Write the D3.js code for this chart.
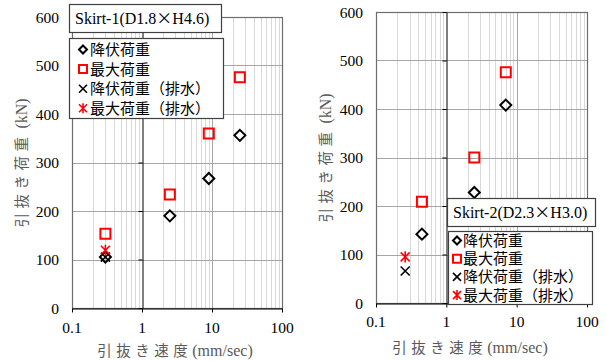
<!DOCTYPE html>
<html>
<head>
<meta charset="utf-8">
<script src="https://cdn.jsdelivr.net/npm/d3@7"></script>
<style>
  html, body { margin: 0; padding: 0; background: #fff; }
  svg { display: block; }
</style>
</head>
<body>
<svg id="chart" width="607" height="361"></svg>
<script>
// Axis ticks shared by both panels
const speedTicks = [0.1, 1, 10, 100];
const loadTicks = [0, 100, 200, 300, 400, 500, 600];
const seriesNames = ["降伏荷重", "最大荷重", "降伏荷重（排水）", "最大荷重（排水）"];

// Skirt-1 (D1.8 x H4.6)
const s1YieldSpeed = [0.3, 2.5, 9, 25];
const s1YieldLoad = [105, 190, 267, 356];
const s1MaxSpeed = [0.3, 2.5, 9, 25];
const s1MaxLoad = [153, 234, 360, 476];
const s1DrainYieldSpeed = [0.3];
const s1DrainYieldLoad = [105];
const s1DrainMaxSpeed = [0.3];
const s1DrainMaxLoad = [119];

// Skirt-2 (D2.3 x H3.0)
const s2YieldSpeed = [0.45, 2.5, 7];
const s2YieldLoad = [142, 228, 408];
const s2MaxSpeed = [0.45, 2.5, 7];
const s2MaxLoad = [209, 300, 476];
const s2DrainYieldSpeed = [0.26];
const s2DrainYieldLoad = [66];
const s2DrainMaxSpeed = [0.26];
const s2DrainMaxLoad = [95];

const SERIF = '"Liberation Serif", "Times New Roman", "DejaVu Serif", serif';
const CJK = '"Noto Sans CJK JP", "Noto Sans", sans-serif';

const svg = d3.select("#chart");

// marker path generators, centred on 0,0 with half-size r
const markers = {
  diamond: r => `M0,${-r}L${r},0L0,${r}L${-r},0Z`,
  square: r => `M${-r},${-r}H${r}V${r}H${-r}Z`,
  cross: r => `M${-r},${-r}L${r},${r}M${r},${-r}L${-r},${r}`,
  star: r => `M${-r},${-r}L${r},${r}M${r},${-r}L${-r},${r}M0,${-r * 1.25}V${r * 1.25}`
};
const styles = [
  { shape: "diamond", color: "#000", width: 2, r: 5.5, lr: 4 },
  { shape: "square", color: "#ff0000", width: 2, r: 5, lr: 4 },
  { shape: "cross", color: "#000", width: 1.6, r: 4.5, lr: 4 },
  { shape: "star", color: "#ff0000", width: 1.6, r: 4.5, lr: 4 }
];

function drawPanel(cfg) {
  const g = svg.append("g");
  const x = d3.scaleLog().domain([0.1, 100]).range([cfg.left, cfg.right]);
  const y = d3.scaleLinear().domain([0, 600]).range([cfg.bottom, cfg.top]);

  // minor vertical gridlines (2..9 in each decade)
  const minor = [];
  [0.1, 1, 10].forEach(d => { for (let k = 2; k <= 9; k++) minor.push(d * k); });
  g.append("g").selectAll("line").data(minor).join("line")
    .attr("x1", d => Math.round(x(d)) + 0.5).attr("x2", d => Math.round(x(d)) + 0.5)
    .attr("y1", cfg.top).attr("y2", cfg.bottom)
    .attr("stroke", "#d9d9d9").attr("stroke-width", 1);

  // major gridlines
  g.append("g").selectAll("line").data([10]).join("line")
    .attr("x1", d => Math.round(x(d)) + 0.5).attr("x2", d => Math.round(x(d)) + 0.5)
    .attr("y1", cfg.top).attr("y2", cfg.bottom)
    .attr("stroke", "#a6a6a6");
  g.append("g").selectAll("line").data(loadTicks.slice(1)).join("line")
    .attr("x1", cfg.left).attr("x2", cfg.right)
    .attr("y1", d => Math.round(y(d)) + 0.5).attr("y2", d => Math.round(y(d)) + 0.5)
    .attr("stroke", "#a6a6a6");

  // plot frame
  g.append("rect")
    .attr("x", cfg.left + 0.5).attr("y", Math.round(cfg.top) + 0.5)
    .attr("width", cfg.right - cfg.left).attr("height", cfg.bottom - Math.round(cfg.top))
    .attr("fill", "none").attr("stroke", "#6e6e6e").attr("stroke-width", 1.2);

  // value axis crossing at speed = 1
  const yAxis = g.append("g")
    .attr("transform", `translate(${Math.round(x(1)) + 0.5},0)`)
    .call(d3.axisLeft(y).tickValues(loadTicks).tickSize(4).tickSizeOuter(0).tickFormat(""));
  yAxis.select(".domain").attr("stroke", "#000");
  yAxis.selectAll(".tick line").attr("stroke", "#000");

  // speed axis along the bottom
  const xAxis = g.append("g")
    .attr("transform", `translate(0,${Math.round(cfg.bottom) + 0.5})`)
    .call(d3.axisBottom(x).tickValues(speedTicks).tickSize(4).tickSizeOuter(0).tickFormat(""));
  xAxis.select(".domain").attr("stroke", "#000");
  xAxis.selectAll(".tick line").attr("stroke", "#000");

  // tick labels
  g.append("g").selectAll("text").data(loadTicks).join("text")
    .style("font-family", SERIF).style("font-size", "15.5px").attr("fill", "#000")
    .attr("text-anchor", "end")
    .attr("x", cfg.left - 13).attr("y", d => y(d) + 5.5)
    .text(d => d);
  g.append("g").selectAll("text").data(speedTicks).join("text")
    .style("font-family", SERIF).style("font-size", "15.5px").attr("fill", "#000")
    .attr("text-anchor", "middle")
    .attr("x", d => x(d)).attr("y", cfg.xLabelY)
    .text(d => d3.format("")(d));

  // axis titles
  const xt = g.append("text").attr("text-anchor", "middle").attr("fill", "#595959")
    .style("font-family", CJK).style("font-size", "14.5px")
    .attr("x", cfg.xTitle[0]).attr("y", cfg.xTitle[1]);
  xt.append("tspan").attr("letter-spacing", "4.5px").text("引抜き速度");
  xt.append("tspan").style("font-family", SERIF).style("font-size", "16px").text("(mm/sec)");
  const yt = g.append("text").attr("text-anchor", "middle").attr("fill", "#595959")
    .style("font-family", CJK).style("font-size", "14.5px")
    .attr("transform", `translate(${cfg.yTitle[0]},${cfg.yTitle[1]}) rotate(-90)`);
  yt.append("tspan").attr("letter-spacing", "4.5px").text("引抜き荷重");
  yt.append("tspan").style("font-family", SERIF).style("font-size", "16px").text(" (kN)");

  // data series
  cfg.series.forEach((s, i) => {
    const st = styles[i];
    g.append("g").selectAll("path").data(d3.zip(s.speed, s.load)).join("path")
      .attr("transform", d => `translate(${x(d[0])},${y(d[1])})`)
      .attr("d", markers[st.shape](st.r))
      .attr("fill", "none")
      .attr("stroke", st.color).attr("stroke-width", st.width);
  });

  // title box; the multiplication sign uses the full-width CJK glyph
  const tb = cfg.titleBox;
  g.append("rect").attr("x", tb.x + 0.5).attr("y", tb.y + 0.5).attr("width", tb.w).attr("height", tb.h)
    .attr("fill", "#fff").attr("stroke", "#404040").attr("stroke-width", 1.2);
  const tt = g.append("text").style("font-family", SERIF).style("font-size", "16px").attr("fill", "#000")
    .attr("x", tb.x + 6).attr("y", tb.y + tb.h / 2 + 5.5);
  cfg.title.split(/(×)/).forEach(part => {
    const sp = tt.append("tspan").text(part);
    if (part === "×") sp.style("font-family", CJK);
  });

  // legend
  const lb = cfg.legendBox;
  g.append("rect").attr("x", lb.x + 0.5).attr("y", lb.y + 0.5).attr("width", lb.w).attr("height", lb.h)
    .attr("fill", "#fff").attr("stroke", "#404040").attr("stroke-width", 1.2);
  const rows = g.append("g").selectAll("g").data(seriesNames).join("g")
    .attr("transform", (d, i) => `translate(${lb.x + lb.mx},${lb.y + lb.first + i * lb.step})`);
  rows.append("path")
    .attr("d", (d, i) => markers[styles[i].shape](styles[i].lr))
    .attr("fill", "none")
    .attr("stroke", (d, i) => styles[i].color)
    .attr("stroke-width", (d, i) => styles[i].width);
  rows.append("text")
    .style("font-family", CJK).style("font-size", "15px").attr("fill", "#000")
    .attr("x", lb.tx - lb.mx).attr("y", 5.4).text(d => d);
}

drawPanel({
  left: 72, right: 282, top: 17, bottom: 308,
  xLabelY: 332.5, xTitle: [175, 356], yTitle: [27, 163],
  title: "Skirt-1(D1.8×H4.6)",
  titleBox: { x: 69, y: 4, w: 152, h: 28 },
  legendBox: { x: 69, y: 38, w: 154, h: 80, mx: 14, tx: 21, first: 11.5, step: 19.6 },
  series: [
    { speed: s1YieldSpeed, load: s1YieldLoad },
    { speed: s1MaxSpeed, load: s1MaxLoad },
    { speed: s1DrainYieldSpeed, load: s1DrainYieldLoad },
    { speed: s1DrainMaxSpeed, load: s1DrainMaxLoad }
  ]
});

drawPanel({
  left: 376, right: 587, top: 12, bottom: 303,
  xLabelY: 327, xTitle: [470, 353], yTitle: [331, 158],
  title: "Skirt-2(D2.3×H3.0)",
  titleBox: { x: 447, y: 198, w: 148, h: 28 },
  legendBox: { x: 448, y: 231, w: 144, h: 73, mx: 9, tx: 15, first: 9.5, step: 18.2 },
  series: [
    { speed: s2YieldSpeed, load: s2YieldLoad },
    { speed: s2MaxSpeed, load: s2MaxLoad },
    { speed: s2DrainYieldSpeed, load: s2DrainYieldLoad },
    { speed: s2DrainMaxSpeed, load: s2DrainMaxLoad }
  ]
});
</script>
</body>
</html>
